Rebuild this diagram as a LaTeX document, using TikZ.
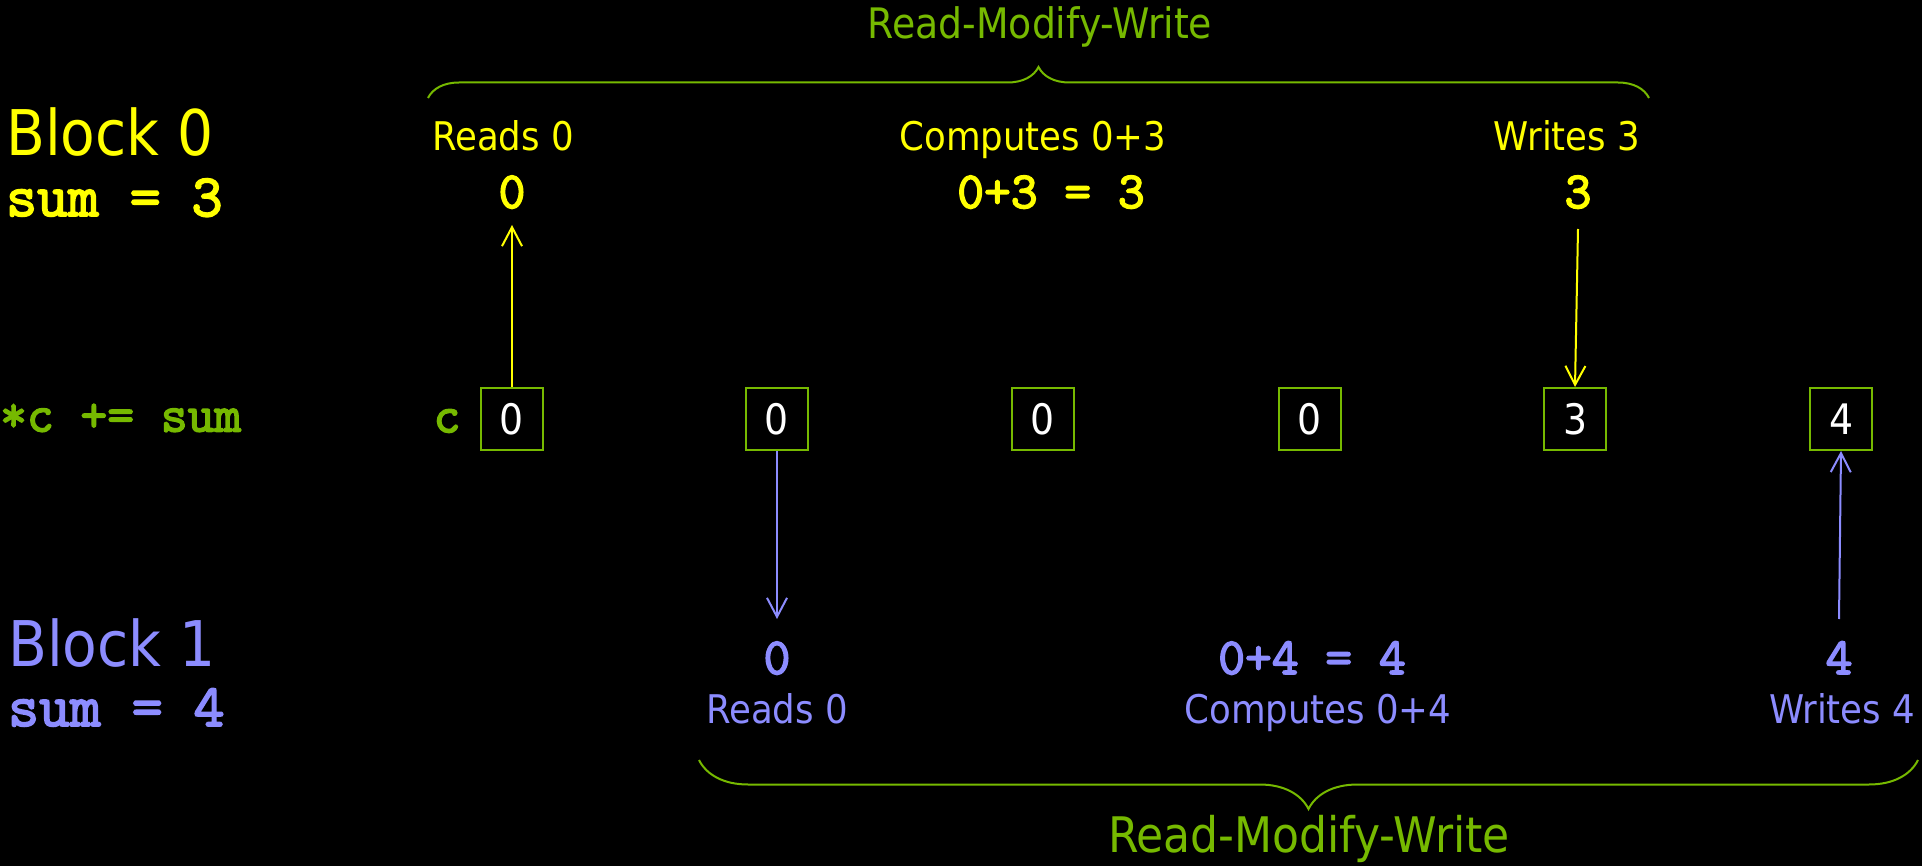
\documentclass[tikz,border=0pt]{standalone}
\usepackage{fontspec}
\setmainfont{DejaVu Sans Condensed}
\setmonofont{Latin Modern Mono}[AutoFakeBold=3]
\usetikzlibrary{arrows.meta,decorations.pathreplacing}
\definecolor{nvgreen}{RGB}{118,185,0}
\definecolor{yel}{RGB}{255,255,0}
\definecolor{blu}{RGB}{140,140,255}
\tikzset{
  lbl/.style={anchor=base,inner sep=0pt,font=\fontsize{39.5}{41}\selectfont},
  big/.style={anchor=base west,inner sep=0pt,font=\fontsize{63}{65}\selectfont},
  code/.style={anchor=base,inner sep=0pt,font=\ttfamily\bfseries\fontsize{52}{54}\selectfont},
  sumcode/.style={anchor=base west,inner sep=0pt,font=\ttfamily\bfseries\fontsize{60}{62}\selectfont},
  cell/.style={draw=nvgreen,line width=2pt,minimum width=62pt,minimum height=62pt,inner sep=0pt,text=white,font=\fontsize{42}{44}\selectfont},
  arr/.style={line width=2pt,-{Straight Barb[length=19pt,width=20pt,line width=2pt]}},
  brc/.style={draw=nvgreen,line width=2pt,decorate},
}
\begin{document}
\begin{tikzpicture}[x=1pt,y=1pt]
\fill[black] (0,0) rectangle (1922,-866);
\useasboundingbox (0,0) rectangle (1922,-866);
% left labels
\node[big,text=yel] (b0) at (6,-156) {Block 0};
\node[sumcode,text=yel] (s0) at (6,-216) {sum = 3};
\node[code,anchor=west,text=nvgreen] (op) at (0,-418) {*c += sum};
\node[big,text=blu] (b1) at (8,-666) {Block 1};
\node[sumcode,text=blu] (s1) at (8,-726) {sum = 4};
% memory cells
\node[code,anchor=center,text=nvgreen] (clab) at (447,-421) {c};
\node[cell] (c0) at (512,-419) {0};
\node[cell] (c1) at (777,-419) {0};
\node[cell] (c2) at (1043,-419) {0};
\node[cell] (c3) at (1310,-419) {0};
\node[cell] (c4) at (1575,-419) {3};
\node[cell] (c5) at (1841,-419) {4};
% block 0 texts
\node[lbl,text=yel] (r0) at (503,-151) {Reads 0};
\node[code,text=yel] (v0) at (512,-208) {0};
\node[lbl,text=yel] (m0) at (1033,-151) {Computes 0+3};
\node[code,text=yel] (e0) at (1051,-208) {0+3 = 3};
\node[lbl,text=yel] (w0) at (1567,-151) {Writes 3};
\node[code,text=yel] (x0) at (1578,-208) {3};
% block 1 texts
\node[code,text=blu] (v1) at (777,-674) {0};
\node[lbl,text=blu] (r1) at (777,-723) {Reads 0};
\node[code,text=blu] (e1) at (1312,-674) {0+4 = 4};
\node[lbl,text=blu] (m1) at (1318,-723) {Computes 0+4};
\node[code,text=blu] (x1) at (1839,-674) {4};
\node[lbl,text=blu] (w1) at (1842,-723) {Writes 4};
% arrows
\coordinate (a0) at (512,-225);
\coordinate (a1) at (1578,-229);
\coordinate (a2) at (777,-619);
\coordinate (a3) at (1839,-619);
\draw[arr,yel] (c0.north) -- (a0);
\draw[arr,yel] (a1) -- (c4.north);
\draw[arr,blu] (c1.south) -- (a2);
\draw[arr,blu] (a3) -- (c5.south);
% braces
\coordinate (t1) at (428,-98);
\coordinate (t2) at (1649,-98);
\draw[brc,decoration={brace,amplitude=31pt}] (t1) -- (t2);
\node[lbl,text=nvgreen,font=\fontsize{42}{44}\selectfont] (rmw0) at (1040,-39) {Read-Modify-Write};
\coordinate (u1) at (1918,-760);
\coordinate (u2) at (699,-760);
\draw[brc,decoration={brace,amplitude=49pt}] (u1) -- (u2);
\node[lbl,text=nvgreen,font=\fontsize{49}{51}\selectfont] (rmw1) at (1309,-852) {Read-Modify-Write};
\end{tikzpicture}
\end{document}
